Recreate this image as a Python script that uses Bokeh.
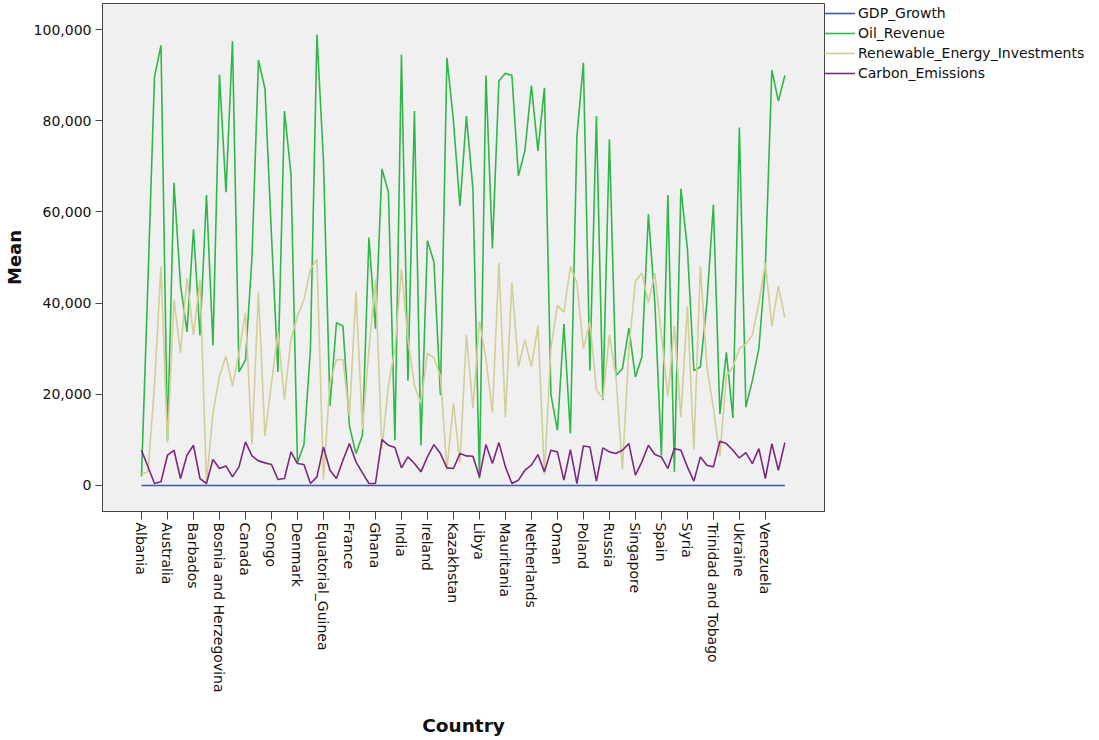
import math
from bokeh.plotting import figure
from bokeh.models import Range1d, FixedTicker, NumeralTickFormatter, Legend, LegendItem
from bokeh.embed import file_html
from bokeh.resources import INLINE

countries = [
    "Albania", "Algeria", "Angola", "Argentina",
    "Australia", "Austria", "Azerbaijan", "Bahrain",
    "Barbados", "Belarus", "Belgium", "Bolivia",
    "Bosnia and Herzegovina", "Botswana", "Brazil", "Brunei",
    "Canada", "Chad", "Chile", "China",
    "Congo", "Croatia", "Cuba", "Cyprus",
    "Denmark", "Dominican Republic", "Ecuador", "Egypt",
    "Equatorial_Guinea", "Estonia", "Ethiopia", "Finland",
    "France", "Gabon", "Georgia", "Germany",
    "Ghana", "Greece", "Guyana", "Hungary",
    "India", "Indonesia", "Iran", "Iraq",
    "Ireland", "Italy", "Japan", "Jordan",
    "Kazakhstan", "Kenya", "Kuwait", "Lebanon",
    "Libya", "Lithuania", "Malaysia", "Mali",
    "Mauritania", "Mexico", "Mongolia", "Morocco",
    "Netherlands", "New Zealand", "Nigeria", "Norway",
    "Oman", "Pakistan", "Peru", "Philippines",
    "Poland", "Portugal", "Qatar", "Romania",
    "Russia", "Saudi Arabia", "Senegal", "Serbia",
    "Singapore", "Slovakia", "Slovenia", "South Africa",
    "Spain", "Sudan", "Sweden", "Switzerland",
    "Syria", "Tanzania", "Thailand", "Togo",
    "Trinidad and Tobago", "Tunisia", "Turkey", "Uganda",
    "Ukraine", "United Arab Emirates", "United Kingdom", "United States",
    "Venezuela", "Vietnam", "Yemen", "Zambia",
]

gdp_growth = [
    3.2, 2.5, 4.1, 1.8, 2.9, 3.6, 2.2, 4.5, 1.5, 3.0,
    2.7, 3.9, 2.4, 1.9, 3.3, 4.0, 2.6, 3.1, 2.0, 4.2,
    3.5, 1.7, 2.8, 3.8, 2.3, 4.4, 1.6, 3.4, 2.9, 3.7,
    2.1, 4.3, 3.0, 1.9, 2.6, 3.9, 2.4, 4.1, 3.2, 1.8,
    2.7, 3.6, 2.2, 4.0, 3.3, 1.5, 2.9, 3.8, 2.5, 4.2,
    3.1, 2.0, 2.8, 3.5, 1.7, 4.4, 2.6, 3.0, 2.3, 3.7,
    1.9, 4.1, 3.4, 2.2, 2.7, 3.9, 1.6, 4.3, 3.2, 2.4,
    2.9, 3.6, 2.1, 4.0, 3.3, 1.8, 2.6, 3.8, 2.5, 4.2,
    3.0, 1.7, 2.8, 3.5, 2.3, 4.4, 3.1, 2.0, 2.7, 3.7,
    1.9, 4.1, 3.4, 2.2, 2.9, 3.6, 1.5, 4.3, 3.2, 2.6,
]

oil_revenue = [
    2000, 45000, 89600, 96500, 10000, 66400, 44000, 33700, 56200, 32900,
    63700, 30700, 90100, 64300, 97400, 24900, 27500, 50000, 93300, 87000,
    55000, 24900, 82100, 68300, 5000, 9000, 30000, 98900, 71200, 17500,
    35700, 35000, 13000, 7000, 11000, 54400, 34400, 69400, 64300, 9900,
    94500, 23000, 82100, 8800, 53700, 49000, 19800, 93800, 80000, 61300,
    81000, 65000, 1500, 89900, 52000, 88700, 90400, 89900, 67900, 73400,
    87700, 73400, 87200, 20000, 12100, 35400, 11400, 76600, 92700, 25200,
    81000, 18700, 75900, 24100, 25600, 34500, 23800, 28200, 59500, 40000,
    6600, 63700, 3000, 65100, 52000, 25200, 26000, 40000, 61600, 15700,
    29200, 14800, 78500, 17200, 23000, 30000, 48000, 91100, 84300, 89900,
]

renewable_investments = [
    2500, 3000, 22000, 48100, 9400, 40800, 29100, 45500, 33000, 45200,
    600, 15900, 24000, 28400, 21800, 29100, 37900, 9000, 42300, 10800,
    22500, 33500, 18900, 32000, 37100, 40800, 47400, 49600, 1300, 22600,
    27600, 27600, 15200, 42600, 12300, 29800, 45000, 8000, 22000, 30000,
    47400, 32000, 22000, 18000, 29000, 28000, 24000, 3500, 18000, 5000,
    33000, 17000, 36000, 28000, 16000, 48800, 15000, 44500, 26000, 32000,
    26000, 35000, 2500, 30000, 39500, 38000, 48000, 44500, 30000, 36000,
    21000, 19000, 33000, 24000, 3500, 30000, 44800, 46600, 40100, 46600,
    33000, 19600, 34900, 15000, 39300, 7900, 48100, 26000, 17000, 6400,
    24000, 26000, 30000, 31000, 33000, 40000, 48800, 34900, 43700, 36800,
]

carbon_emissions = [
    7700, 4100, 440, 810, 6640, 7720, 1530, 6640, 8820, 1530,
    440, 5690, 3720, 4300, 1900, 4080, 9560, 6490, 5400, 4960,
    4600, 1310, 1530, 7370, 4810, 4600, 440, 1900, 8460, 3350,
    1530, 5540, 9190, 5180, 2770, 440, 440, 10060, 8820, 8310,
    3870, 6270, 4810, 2990, 6270, 8970, 7000, 3870, 3720, 7000,
    6490, 6420, 1900, 8970, 4810, 9410, 4080, 440, 1170, 3350,
    4450, 6780, 2990, 7720, 7370, 1170, 7880, 440, 8680, 8460,
    950, 8240, 7370, 7000, 7720, 9190, 2260, 5180, 8820, 6780,
    6270, 3720, 8100, 7720, 4080, 950, 6270, 4450, 4080, 9700,
    9190, 7720, 6050, 7220, 4810, 8100, 1530, 9190, 3350, 9410,
]

series_names = ["GDP_Growth", "Oil_Revenue", "Renewable_Energy_Investments", "Carbon_Emissions"]
series_colors = ["#3E58AC", "#2EB848", "#D3CE97", "#7C287D"]
y_ticks = [0, 20000, 40000, 60000, 80000, 100000]

FONT = "DejaVu Sans"

x = list(range(len(countries)))
label_idx = list(range(0, len(countries), 4))

p = figure(
    output_backend="svg", toolbar_location=None,
    frame_width=722, frame_height=508,
    min_border_left=97, min_border_top=3, min_border_bottom=222, min_border_right=0,
    x_range=Range1d(-6, 105.1), y_range=Range1d(-5702, 105702),
    background_fill_color="#F0F0F0", border_fill_color="white",
)
p.outline_line_color = "#444444"
p.outline_line_width = 1
p.xgrid.visible = False
p.ygrid.visible = False

renderers = []
for vals, name, col in zip([gdp_growth, oil_revenue, renewable_investments, carbon_emissions],
                           series_names, series_colors):
    r = p.line(x, vals, line_color=col, line_width=1.6)
    renderers.append((name, r))

# x axis
xa = p.xaxis[0]
xa.ticker = FixedTicker(ticks=label_idx)
xa.major_label_overrides = {i: countries[i] for i in label_idx}
xa.major_label_orientation = -math.pi / 2
xa.major_label_text_font = FONT
xa.major_label_text_font_size = "14px"
xa.major_label_text_color = "#111111"
xa.major_tick_out = 8
xa.major_tick_in = 0
xa.minor_tick_out = 0
xa.minor_tick_in = 0
xa.major_label_standoff = 3
xa.axis_line_color = "#444444"
xa.major_tick_line_color = "#444444"
xa.axis_label = "Country"
xa.axis_label_text_font = FONT
xa.axis_label_text_font_style = "bold"
xa.axis_label_text_font_size = "18.5px"
xa.axis_label_text_color = "#111111"
xa.axis_label_standoff = 20

# y axis
ya = p.yaxis[0]
ya.ticker = FixedTicker(ticks=y_ticks)
ya.formatter = NumeralTickFormatter(format="0,0")
ya.major_label_text_font = FONT
ya.major_label_text_font_size = "14px"
ya.major_label_text_color = "#111111"
ya.major_tick_out = 7
ya.major_tick_in = 0
ya.minor_tick_out = 0
ya.minor_tick_in = 0
ya.major_label_standoff = 4
ya.axis_line_color = "#444444"
ya.major_tick_line_color = "#444444"
ya.axis_label = "Mean"
ya.axis_label_text_font = FONT
ya.axis_label_text_font_style = "bold"
ya.axis_label_text_font_size = "18px"
ya.axis_label_text_color = "#111111"
ya.axis_label_standoff = 6

legend = Legend(
    items=[LegendItem(label=n, renderers=[r]) for n, r in renderers],
    location="top_left",
    margin=0, padding=0, spacing=0,
    glyph_width=31, glyph_height=20, label_height=20,
    label_standoff=3,
    label_text_font=FONT, label_text_font_size="14px", label_text_color="#111111",
    border_line_alpha=0, background_fill_alpha=0,
)
p.add_layout(legend, "right")

open("out.html", "w").write(file_html(p, INLINE))
